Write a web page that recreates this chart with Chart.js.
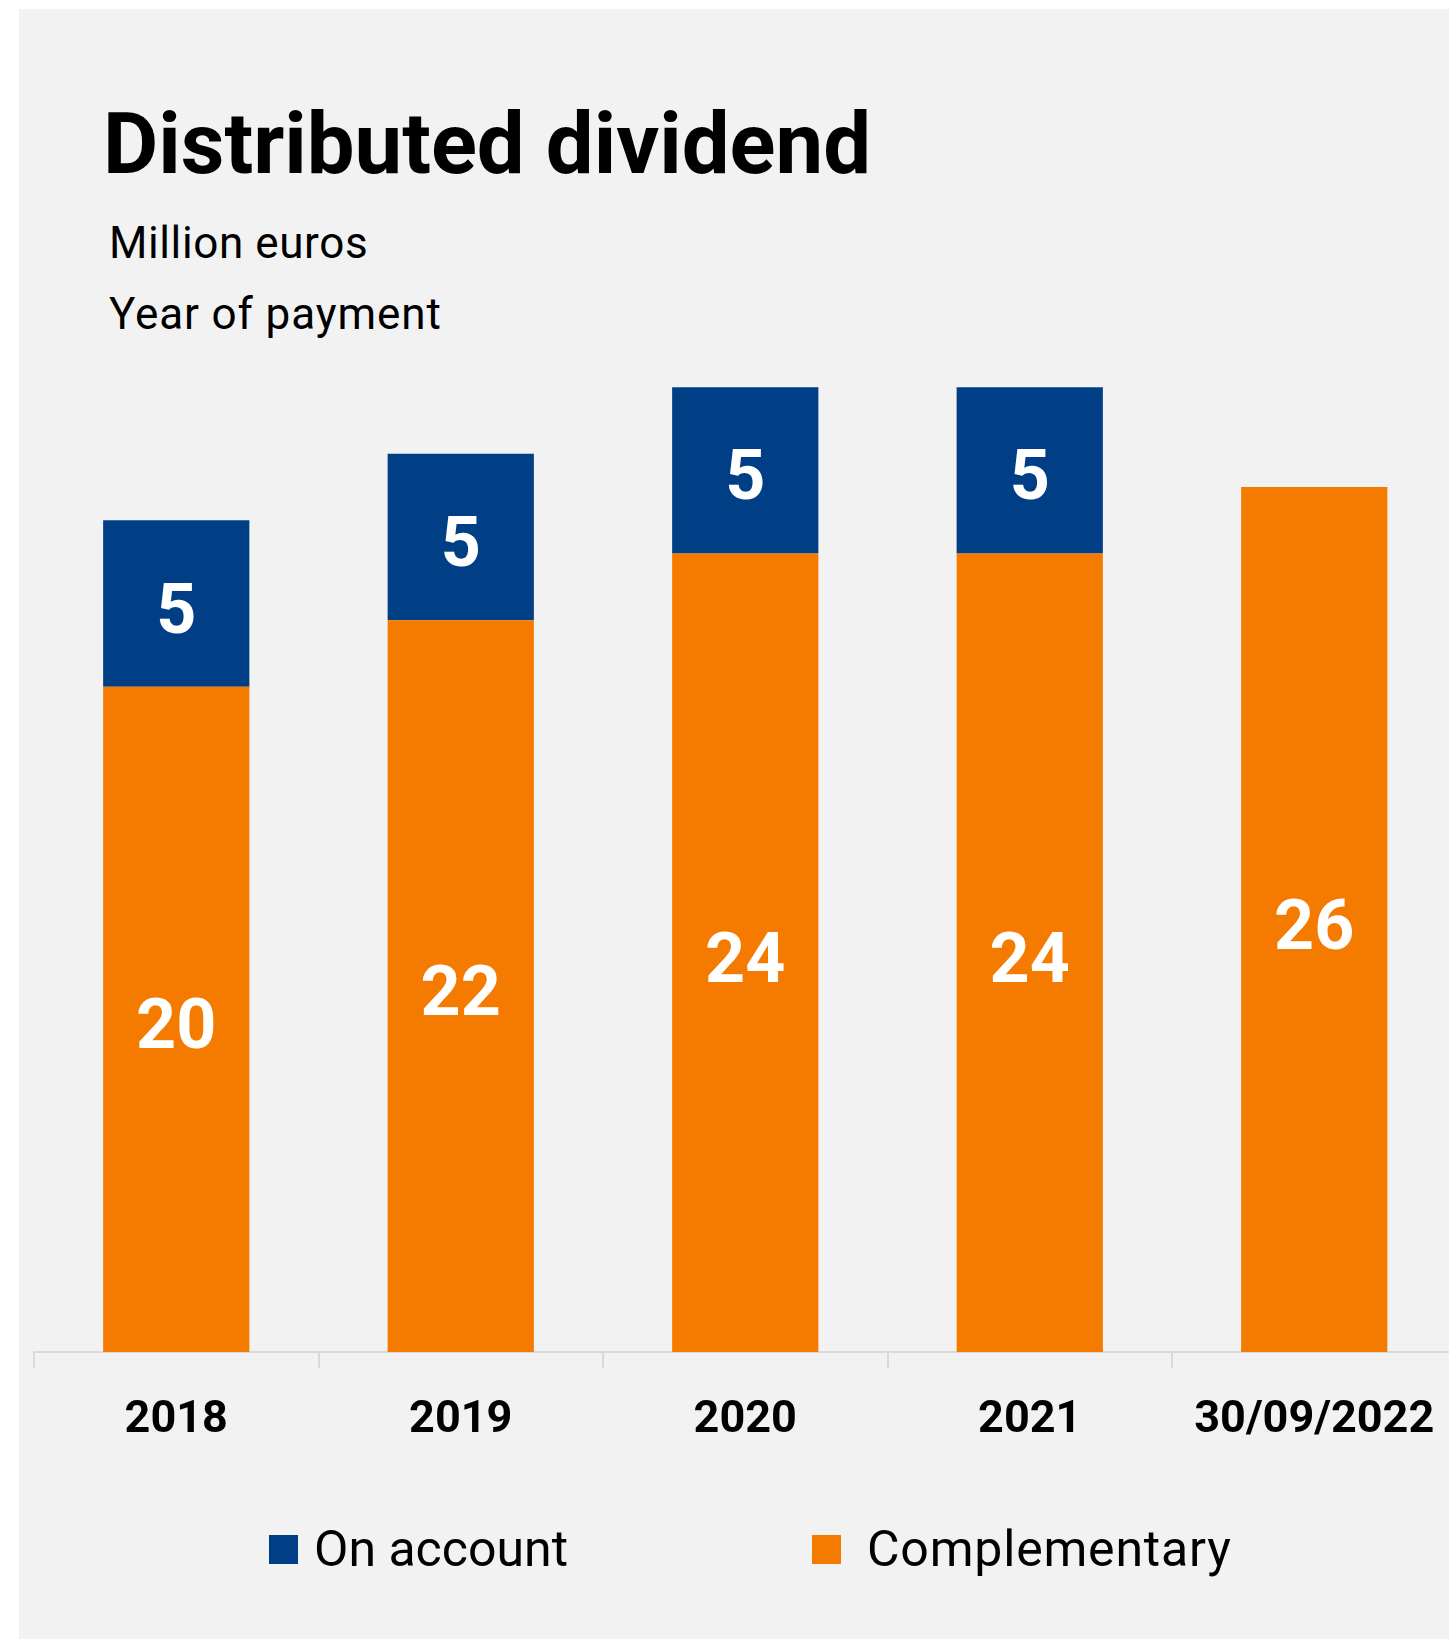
<!DOCTYPE html>
<html>
<head>
<meta charset="utf-8">
<script src="https://cdn.jsdelivr.net/npm/chart.js@4/dist/chart.umd.min.js"></script>
<style>
  html, body { margin: 0; padding: 0; background: #fff; overflow: hidden; }
  body { width: 1449px; height: 1639px; position: relative; font-family: Roboto, "Noto Sans", sans-serif; }
  #panel { position: absolute; left: 19px; top: 9px; right: 0; bottom: 0; background: #f2f2f2; }
  .txt { position: absolute; white-space: nowrap; line-height: 1; color: #000; }
  #title { left: 103px; top: 102px; font-size: 85px; font-weight: 700; }
  #sub1 { left: 109px; top: 221px; font-size: 44px; letter-spacing: 0.6px; }
  #sub2 { left: 109px; top: 292px; font-size: 44px; letter-spacing: 0.9px; }
  #chartBox { position: absolute; left: 0; top: 0; width: 1480px; height: 1639px; }
  #legend { position: absolute; left: 269px; top: 1524px; display: flex; align-items: center; }
  .lg-item { display: flex; align-items: center; font-size: 50px; line-height: 1; }
  .lg-box { width: 29px; height: 29px; margin-right: 16px; }
</style>
</head>
<body>
<div id="panel"></div>
<div class="txt" id="title">Distributed dividend</div>
<div class="txt" id="sub1">Million euros</div>
<div class="txt" id="sub2">Year of payment</div>
<div id="chartBox"><canvas id="divChart"></canvas></div>
<div id="legend"></div>

<script>
// --- DATA ---
const categories = ["2018", "2019", "2020", "2021", "30/09/2022"];
const complementary = [20, 22, 24, 24, 26];
const onAccount = [5, 5, 5, 5, 0];

const ORANGE = "#f57b00";
const NAVY = "#003e85";

// white value labels in the middle of each segment
const segmentLabels = {
    id: "segmentLabels",
    afterDatasetsDraw(chart) {
        const ctx = chart.ctx;
        ctx.save();
        ctx.fillStyle = "#fff";
        ctx.font = "700 70px Roboto";
        ctx.textAlign = "center";
        ctx.textBaseline = "alphabetic";
        chart.data.datasets.forEach((ds, i) => {
            const meta = chart.getDatasetMeta(i);
            meta.data.forEach((bar, j) => {
                const v = ds.data[j];
                if (!v) return;
                const mid = (bar.y + bar.base) / 2;
                ctx.fillText(String(v), bar.x, mid + 25 + 4);
            });
        });
        ctx.restore();
    }
};

const chart = new Chart(document.getElementById("divChart"), {
    type: "bar",
    data: {
        labels: categories,
        datasets: [
            { label: "Complementary", data: complementary, backgroundColor: ORANGE },
            { label: "On account", data: onAccount, backgroundColor: NAVY }
        ]
    },
    options: {
        responsive: true,
        maintainAspectRatio: false,
        animation: false,
        layout: { padding: { left: 34, right: 23.5, top: 354, bottom: 165 } },
        datasets: { bar: { barPercentage: 0.514, categoryPercentage: 1 } },
        plugins: {
            legend: { display: false },
            tooltip: { enabled: false }
        },
        scales: {
            x: {
                stacked: true,
                border: { display: true, color: "#d9d9d9", width: 2 },
                grid: { offset: true, drawOnChartArea: false, drawTicks: true, tickLength: 16, color: "#d9d9d9", lineWidth: 2 },
                ticks: { color: "#000", padding: 26, font: { family: "Roboto", size: 45, weight: "700" } }
            },
            y: {
                stacked: true,
                display: false,
                min: 0,
                max: 30
            }
        }
    },
    plugins: [segmentLabels]
});

// --- LEGEND (On account first) ---
const legendEl = document.getElementById("legend");
[1, 0].forEach((idx, k) => {
    const ds = chart.data.datasets[idx];
    const item = document.createElement("div");
    item.className = "lg-item";
    if (k === 0) item.style.marginRight = "244px";
    const gap = k === 0 ? 16 : 26;
    const spacing = k === 0 ? 0 : 0.8;
    item.innerHTML = `<span class="lg-box" style="background:${ds.backgroundColor};margin-right:${gap}px"></span><span style="letter-spacing:${spacing}px">${ds.label}</span>`;
    legendEl.appendChild(item);
});
</script>
</body>
</html>
